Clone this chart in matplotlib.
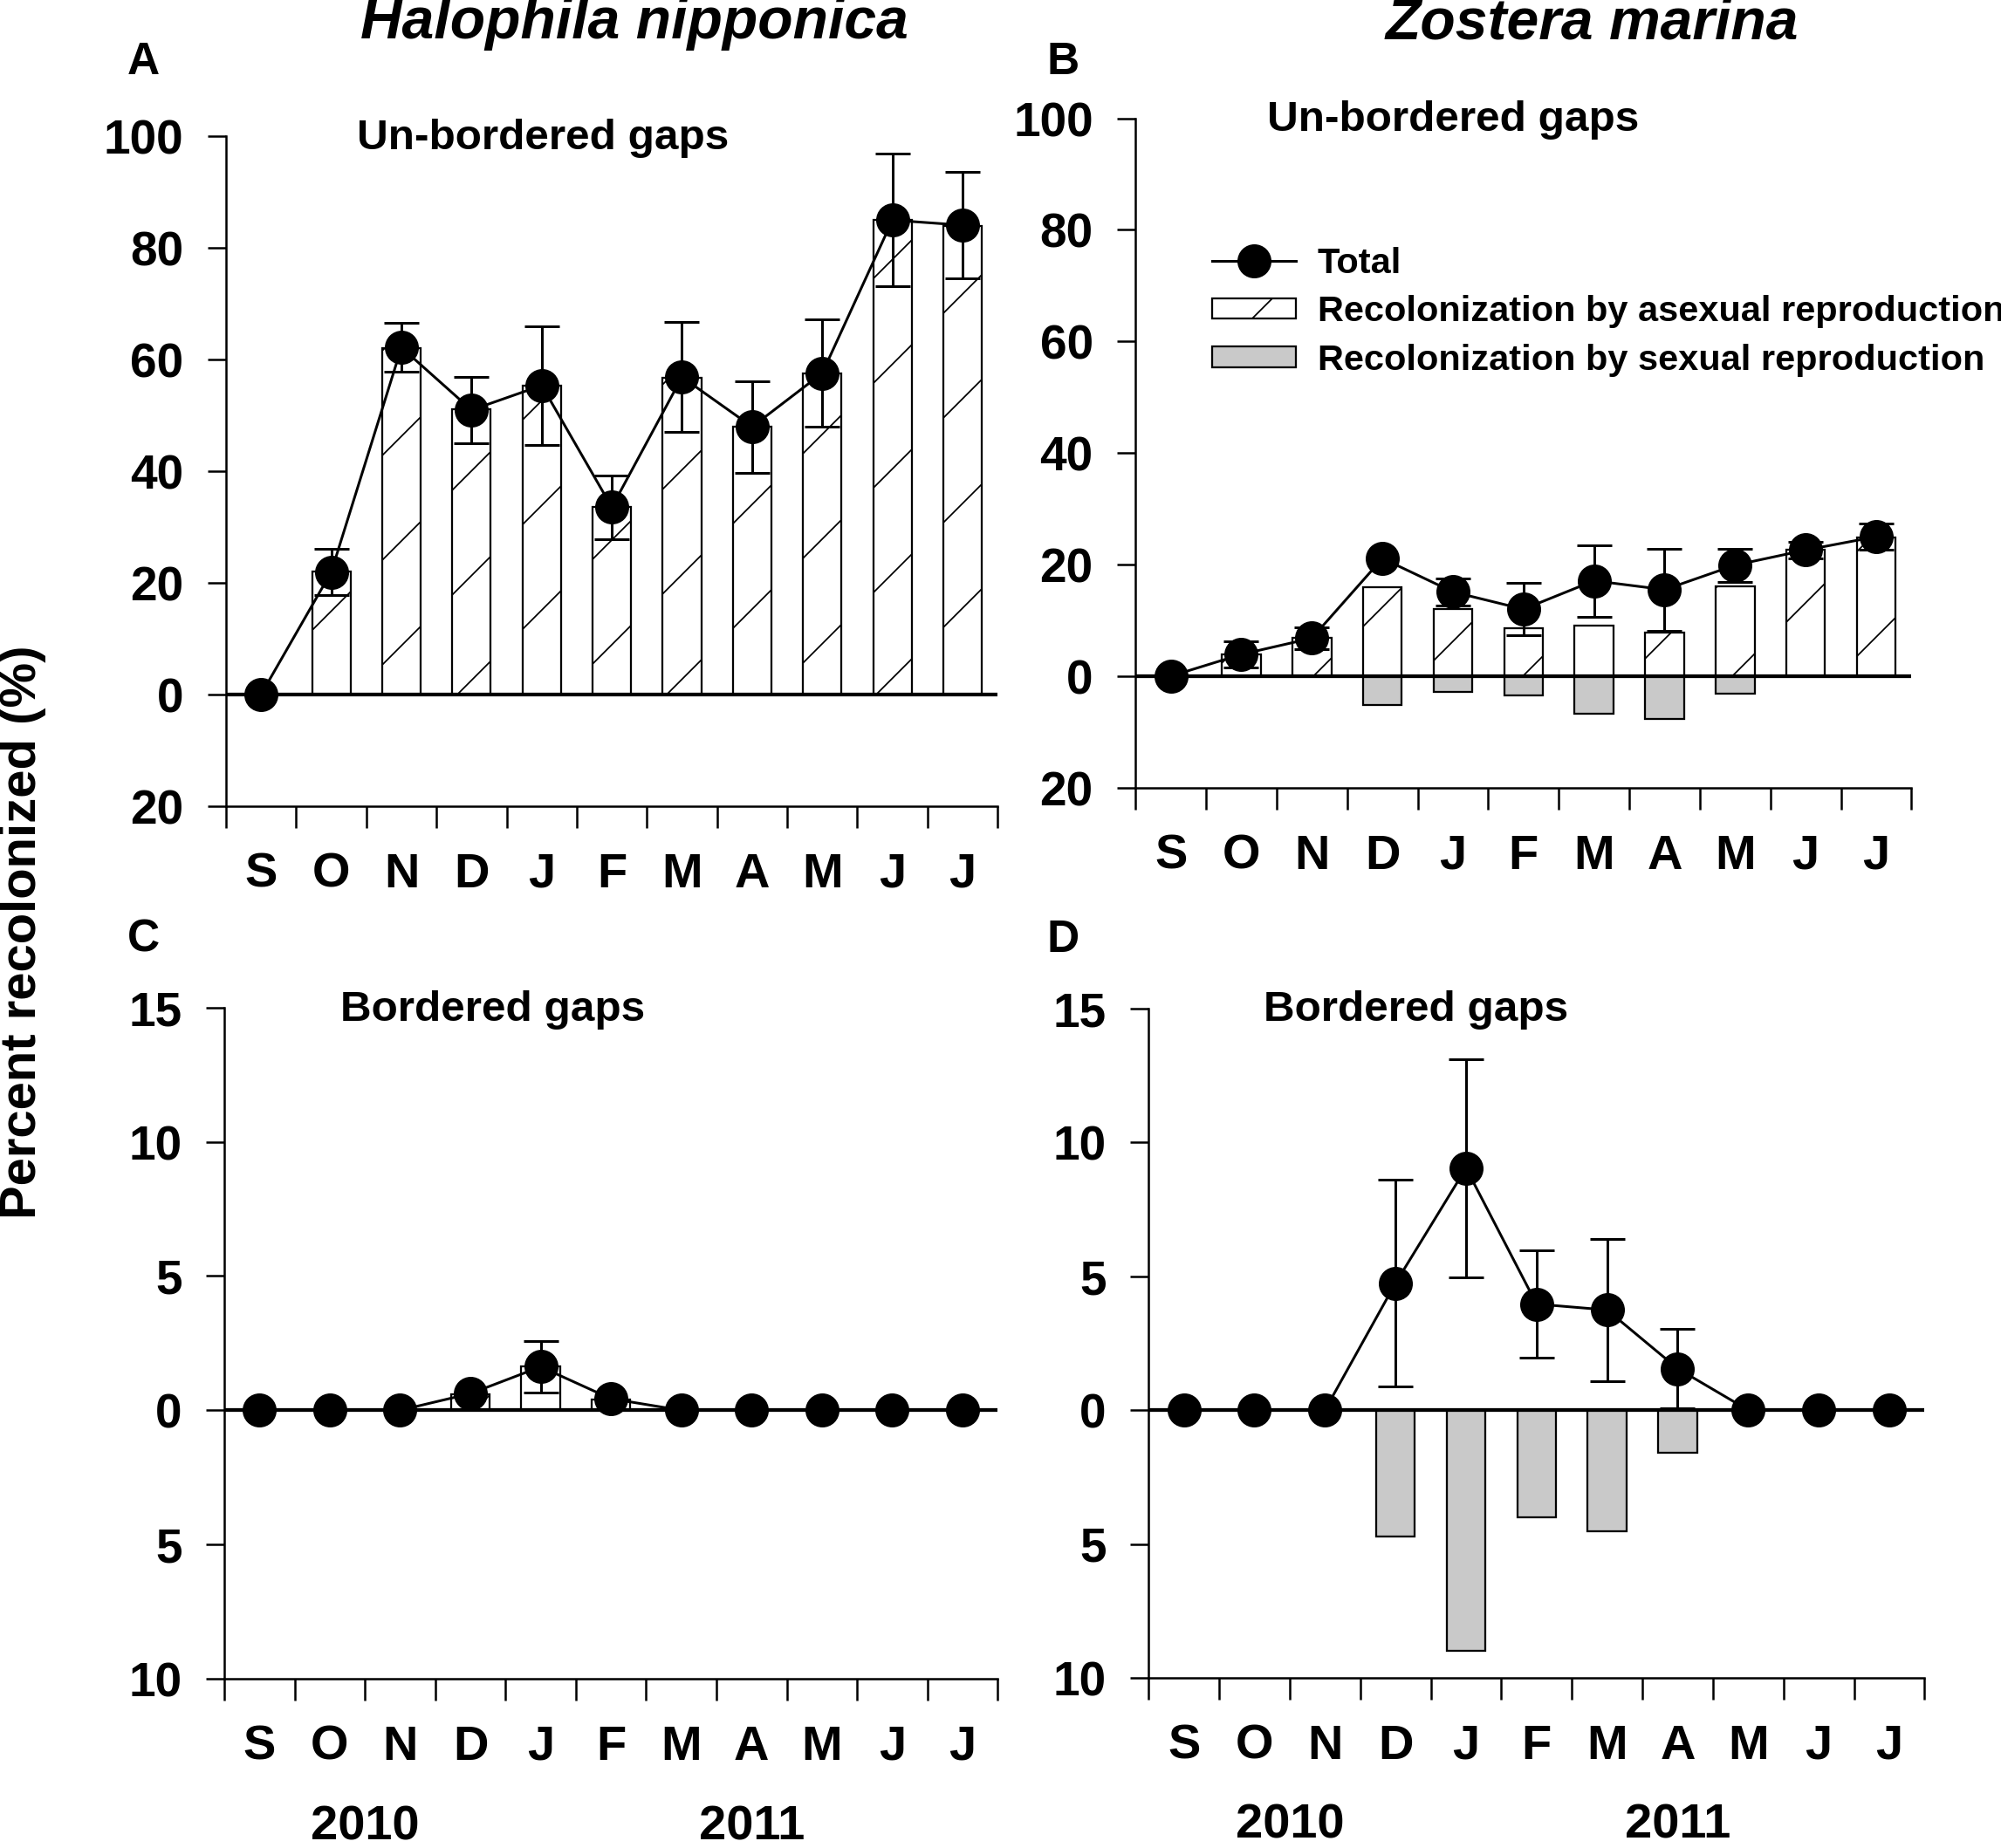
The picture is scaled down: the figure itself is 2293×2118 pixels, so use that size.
import numpy as np
import matplotlib
matplotlib.use('Agg')
import matplotlib.pyplot as plt
from matplotlib.lines import Line2D
from matplotlib.patches import Patch

months = ['S', 'O', 'N', 'D', 'J', 'F', 'M', 'A', 'M', 'J', 'J']

# Halophila nipponica, un-bordered gaps (A)
hn_unb_total = [0, 21.9, 62.1, 50.9, 55.3, 33.5, 56.8, 47.9, 57.5, 84.9, 84.0]
hn_unb_se = [0, 4.2, 4.4, 6.0, 10.6, 5.7, 9.8, 8.2, 9.6, 11.9, 9.5]
hn_unb_asex = [0, 22.0, 62.0, 51.1, 55.3, 33.5, 56.7, 47.9, 57.4, 84.9, 83.8]

# Zostera marina, un-bordered gaps (B)
zm_unb_total = [0, 3.9, 6.8, 21.1, 15.1, 12.0, 17.1, 15.5, 19.9, 22.6, 25.0]
zm_unb_se = [0, 2.3, 2.0, 0, 2.45, 4.65, 6.4, 7.35, 3.0, 1.5, 2.3]
zm_unb_asex = [0, 3.9, 6.8, 15.9, 12.1, 8.6, 9.1, 7.8, 16.1, 22.7, 24.9]
zm_unb_sex = [0, 0, 0, 5.1, 2.9, 3.4, 6.8, 7.7, 3.1, 0, 0]

# Halophila nipponica, bordered gaps (C)
hn_bor_total = [0, 0, 0, 0.62, 1.62, 0.43, 0, 0, 0, 0, 0]
hn_bor_se = [0, 0, 0, 0, 0.95, 0, 0, 0, 0, 0, 0]
hn_bor_asex = [0, 0, 0, 0.6, 1.62, 0.41, 0, 0, 0, 0, 0]

# Zostera marina, bordered gaps (D)
zm_bor_total = [0, 0, 0, 4.74, 9.04, 3.96, 3.74, 1.55, 0, 0, 0]
zm_bor_se = [0, 0, 0, 3.87, 4.08, 2.0, 2.66, 1.48, 0, 0, 0]
zm_bor_sex = [0, 0, 0, 4.73, 9.0, 4.0, 4.53, 1.58, 0, 0, 0]

GRAY = '#c9c9c9'

plt.rcParams['font.family'] = ['Liberation Sans', 'DejaVu Sans']
plt.rcParams['font.weight'] = 'bold'
plt.rcParams['hatch.linewidth'] = 0.35

W, H = 2293, 2118
DPI = 360
fig = plt.figure(figsize=((W + 0.4) / DPI, (H + 0.4) / DPI), dpi=DPI)


def px_axes(x0, x1, ytop, ybot):
    return fig.add_axes([x0 / W, 1 - ybot / H, (x1 - x0) / W, (ybot - ytop) / H])


def draw_panel(ax, total, se, asex, sex, ymin, ymax, ystep):
    x = np.arange(len(months))
    if asex is not None:
        ax.bar(x, asex, width=0.55, color='white', edgecolor='black',
               hatch='/', lw=0.45, zorder=2)
    if sex is not None:
        ax.bar(x, -np.asarray(sex), width=0.55, color=GRAY, edgecolor='black',
               lw=0.45, zorder=2)
    ax.axhline(0, color='black', lw=0.85, zorder=3)
    total = np.asarray(total)
    se = np.asarray(se)
    m = se > 0
    ax.errorbar(x[m], total[m], yerr=se[m], fmt='none', ecolor='black',
                elinewidth=0.6, capsize=4.1, capthick=0.6, zorder=4)
    ax.plot(x, total, '-o', color='black', lw=0.6, ms=6.8, zorder=5, clip_on=False)

    ax.set_xlim(-0.5, len(months) - 0.5)
    ax.set_ylim(ymin, ymax)
    yt = np.arange(ymin, ymax + 1, ystep)
    ax.set_yticks(yt)
    ax.set_yticklabels([str(abs(int(v))) for v in yt])
    ax.set_xticks(np.arange(-0.5, len(months)), minor=False)
    ax.set_xticks(x, minor=True)
    ax.set_xticklabels(months, minor=True)
    ax.tick_params(axis='x', which='major', length=5, width=0.5, labelbottom=False)
    ax.tick_params(axis='x', which='minor', length=0, pad=10.5, labelsize=11.2)
    ax.tick_params(axis='y', length=4.2, width=0.5, pad=5.5, labelsize=11)
    for s in ['top', 'right']:
        ax.spines[s].set_visible(False)
    for s in ['left', 'bottom']:
        ax.spines[s].set_linewidth(0.5)


ax_a = px_axes(259, 1143, 156, 924)
ax_b = px_axes(1301, 2190, 136, 903)
ax_c = px_axes(257, 1143, 1155, 1924)
ax_d = px_axes(1316, 2205, 1156, 1923)

draw_panel(ax_a, hn_unb_total, hn_unb_se, hn_unb_asex, None, -20, 100, 20)
draw_panel(ax_b, zm_unb_total, zm_unb_se, zm_unb_asex, zm_unb_sex, -20, 100, 20)
draw_panel(ax_c, hn_bor_total, hn_bor_se, hn_bor_asex, None, -10, 15, 5)
draw_panel(ax_d, zm_bor_total, zm_bor_se, None, zm_bor_sex, -10, 15, 5)

# years under the bordered panels
for ax in [ax_c, ax_d]:
    ax.text(1.5, -0.221, '2010', transform=ax.get_xaxis_transform(),
            ha='center', va='center', fontsize=11.2)
    ax.text(7, -0.221, '2011', transform=ax.get_xaxis_transform(),
            ha='center', va='center', fontsize=11.2)

# species titles
fig.text(727 / W, 1 - 44 / H, 'Halophila nipponica', style='italic',
         fontsize=13.2, ha='center', va='baseline')
fig.text(1824 / W, 1 - 44 / H, 'Zostera marina', style='italic',
         fontsize=13.2, ha='center', va='baseline')

# panel letters
for lab, xp, yp in [('A', 164, 71), ('B', 1218, 71), ('C', 164, 1077), ('D', 1218, 1077)]:
    fig.text(xp / W, 1 - yp / H, lab, ha='center', va='center', fontsize=10.3)

# panel subtitles
fig.text(409 / W, 1 - 158 / H, 'Un-bordered gaps', ha='left', va='center', fontsize=9.9)
fig.text(1452 / W, 1 - 137 / H, 'Un-bordered gaps', ha='left', va='center', fontsize=9.9)
fig.text(390 / W, 1 - 1157 / H, 'Bordered gaps', ha='left', va='center', fontsize=9.9)
fig.text(1448 / W, 1 - 1157 / H, 'Bordered gaps', ha='left', va='center', fontsize=9.9)

fig.text(26 / W, 1 - 1068 / H, 'Percent recolonized (%)', rotation=90,
         ha='center', va='center', fontsize=11.6)

handles = [
    Line2D([], [], color='black', lw=0.6, marker='o', ms=6.8),
    Patch(facecolor='white', edgecolor='black', hatch='/', lw=0.45),
    Patch(facecolor=GRAY, edgecolor='black', lw=0.45),
]
labels = ['Total', 'Recolonization by asexual reproduction',
          'Recolonization by sexual reproduction']
ax_b.legend(handles, labels, loc='upper left', bbox_to_anchor=(1389 / W, 1 - 283 / H),
            bbox_transform=fig.transFigure, frameon=False, fontsize=8.3,
            handlelength=2.3, handleheight=0.5, handletextpad=0.6,
            labelspacing=0.42, borderpad=0, borderaxespad=0)

fig.savefig('out.png', dpi=DPI)
